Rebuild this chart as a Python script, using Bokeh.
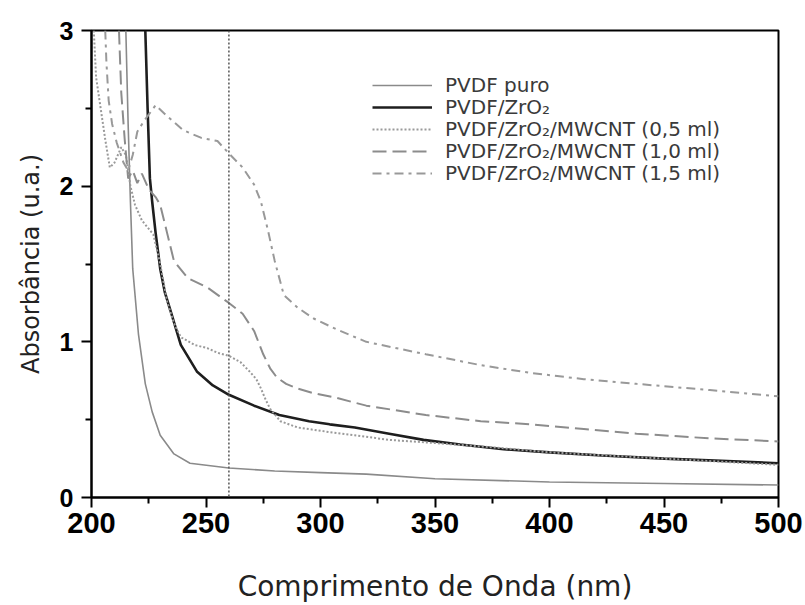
from bokeh.plotting import figure
from bokeh.models import Range1d, Legend, LegendItem, Span, FixedTicker
from bokeh.embed import file_html
from bokeh.resources import INLINE

# ---- data ----
x_puro = [215, 216, 217, 218, 220.5, 223.5, 226.5, 230, 236, 243, 260, 280, 300, 320, 350, 400, 450, 500]
y_puro = [3.0, 2.4, 1.9, 1.47, 1.05, 0.73, 0.55, 0.40, 0.28, 0.22, 0.19, 0.17, 0.16, 0.15, 0.12, 0.10, 0.09, 0.08]

x_zro2 = [223.5, 224.5, 225.5, 226.5, 228, 230, 232, 234.5, 239, 246, 253, 260, 271, 282, 295, 304, 315, 330, 345, 361, 380, 400, 423, 450, 475, 500]
y_zro2 = [3.0, 2.5, 2.05, 1.9, 1.7, 1.47, 1.32, 1.2, 0.98, 0.81, 0.72, 0.66, 0.59, 0.53, 0.49, 0.47, 0.45, 0.41, 0.37, 0.34, 0.31, 0.29, 0.27, 0.25, 0.235, 0.22]

x_05 = [201, 202, 204, 206, 208, 210, 213, 215, 217, 219, 222, 227, 230, 233, 236, 239, 245, 250.5, 255, 260, 265, 269, 272, 274, 276, 278, 282.5, 290, 304, 315, 330, 350, 377, 400, 450, 500]
y_05 = [3.0, 2.7, 2.5, 2.3, 2.12, 2.15, 2.25, 2.2, 2.0, 1.88, 1.78, 1.69, 1.5, 1.26, 1.12, 1.03, 0.98, 0.96, 0.93, 0.91, 0.87, 0.81, 0.76, 0.70, 0.63, 0.57, 0.49, 0.45, 0.42, 0.40, 0.37, 0.35, 0.32, 0.29, 0.25, 0.21]

x_10 = [212, 213, 214.5, 216, 218, 220, 222, 225, 228, 230, 233, 236, 242, 250.5, 260, 266, 271, 275, 278, 281, 285, 290, 297, 307, 320, 346, 370, 392, 415, 438, 470, 500]
y_10 = [3.0, 2.6, 2.3, 2.05, 2.1, 2.02, 2.08, 1.98, 1.93, 1.88, 1.7, 1.52, 1.41, 1.35, 1.25, 1.18, 1.07, 0.92, 0.83, 0.77, 0.73, 0.70, 0.67, 0.64, 0.59, 0.53, 0.49, 0.47, 0.44, 0.41, 0.38, 0.36]

x_15 = [206, 206.5, 207.5, 209, 211, 214, 216, 218, 220, 223, 228, 233, 240, 248, 255, 260, 266, 271, 274, 277, 280, 284, 290, 297, 307, 320, 346, 370, 392, 415, 438, 470, 500]
y_15 = [3.0, 2.8, 2.55, 2.4, 2.28, 2.15, 2.1, 2.2, 2.35, 2.42, 2.52, 2.45, 2.36, 2.31, 2.29, 2.21, 2.12, 2.01, 1.9, 1.72, 1.52, 1.3, 1.22, 1.15, 1.08, 1.0, 0.92, 0.85, 0.80, 0.76, 0.73, 0.69, 0.65]

x_ref = 260

labels = ["PVDF puro", "PVDF/ZrO\u2082", "PVDF/ZrO\u2082/MWCNT (0,5 ml)",
          "PVDF/ZrO\u2082/MWCNT (1,0 ml)", "PVDF/ZrO\u2082/MWCNT (1,5 ml)"]
x_ticks = [200, 250, 300, 350, 400, 450, 500]
x_minor = [225, 275, 325, 375, 425, 475]
y_ticks = [0, 1, 2, 3]
y_minor = [0.5, 1.5, 2.5]

p = figure(width=805, height=605, output_backend="svg", toolbar_location=None,
           x_range=Range1d(200, 500), y_range=Range1d(0, 3),
           min_border_left=91, min_border_right=27, min_border_top=30, min_border_bottom=108)
p.background_fill_color = "white"
p.border_fill_color = "white"
p.xgrid.visible = False
p.ygrid.visible = False
p.outline_line_color = "black"
p.outline_line_width = 2

FONT = "Liberation Sans"
WIDE = "DejaVu Sans"
for ax in (p.xaxis[0], p.yaxis[0]):
    ax.axis_line_width = 2
    ax.axis_line_color = "black"
    ax.major_tick_line_color = "black"
    ax.minor_tick_line_color = "black"
    ax.major_tick_line_width = 2
    ax.minor_tick_line_width = 2
    ax.major_tick_in = 0
    ax.major_tick_out = 10
    ax.minor_tick_in = 0
    ax.minor_tick_out = 6
    ax.major_label_text_font = FONT
    ax.major_label_text_font_style = "bold"
    ax.major_label_text_color = "black"
    ax.axis_label_text_font = WIDE
    ax.axis_label_text_font_style = "normal"
    ax.axis_label_text_color = "#222222"

p.xaxis[0].major_label_text_font_size = "29px"
p.yaxis[0].major_label_text_font_size = "25px"
p.xaxis[0].axis_label_text_font_size = "28px"
p.yaxis[0].axis_label_text_font_size = "24px"

p.xaxis[0].ticker = FixedTicker(ticks=x_ticks, minor_ticks=x_minor)
p.yaxis[0].ticker = FixedTicker(ticks=y_ticks, minor_ticks=y_minor)
p.xaxis[0].axis_label = "Comprimento de Onda (nm)"
p.yaxis[0].axis_label = "Absorbância (u.a.)"
p.xaxis[0].major_label_standoff = 5
p.xaxis[0].axis_label_standoff = 34
p.yaxis[0].major_label_standoff = 8
p.yaxis[0].axis_label_standoff = 12

p.add_layout(Span(location=x_ref, dimension="height", line_color="#555555",
                  line_width=1.5, line_dash="2 2"))

r1 = p.line(x_puro, y_puro, line_color="#8a8a8a", line_width=1.6)
r2 = p.line(x_zro2, y_zro2, line_color="#1e1e1e", line_width=2.6)
r3 = p.line(x_05, y_05, line_color="#9a9a9a", line_width=2, line_dash="2 2")
r4 = p.line(x_10, y_10, line_color="#8c8c8c", line_width=2, line_dash="14 6")
r5 = p.line(x_15, y_15, line_color="#999999", line_width=2, line_dash="9 5 3 5")

# one legend box per entry so the rows sit 22 px apart as in the reference
for i, (l, r) in enumerate(zip(labels, [r1, r2, r3, r4, r5])):
    lg = Legend(items=[LegendItem(label=l, renderers=[r])], location=(281, 400 - 22 * i))
    lg.border_line_color = None
    lg.background_fill_alpha = 0
    lg.padding = 0
    lg.margin = 0
    lg.spacing = 0
    lg.glyph_width = 60
    lg.glyph_height = 20
    lg.label_height = 20
    lg.label_standoff = 13
    lg.label_text_font = WIDE
    lg.label_text_font_size = "20px"
    lg.label_text_color = "#3a3a3a"
    p.add_layout(lg, "center")

open("out.html", "w").write(file_html(p, INLINE))
